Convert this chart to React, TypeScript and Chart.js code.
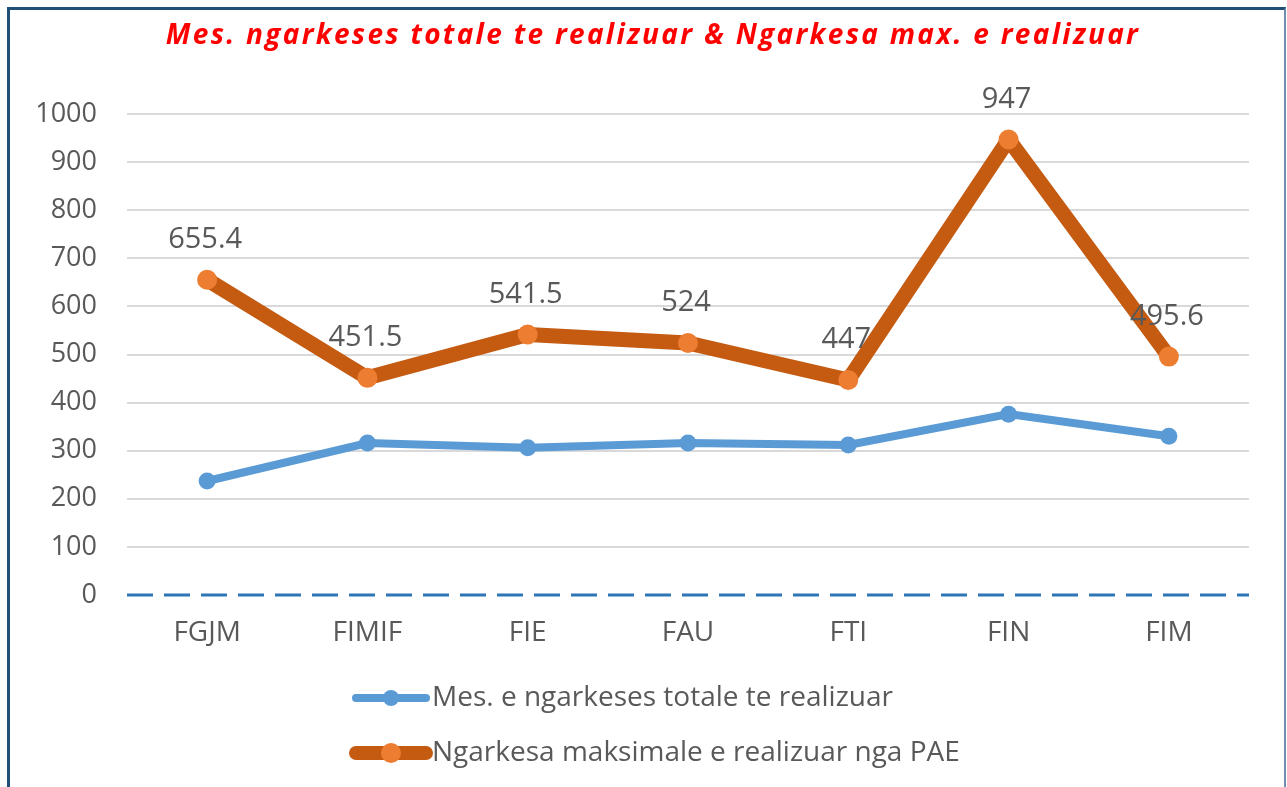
import React, { useEffect, useRef } from "react";
import { Chart, registerables } from "chart.js";

Chart.register(...registerables);

const TITLE = "Mes. ngarkeses totale te realizuar & Ngarkesa max. e realizuar";
const categories = ["FGJM", "FIMIF", "FIE", "FAU", "FTI", "FIN", "FIM"];
const seriesMesName = "Mes. e ngarkeses totale te realizuar";
const seriesMesValues = [237, 316, 306, 316, 312, 376, 330];
const seriesMaxName = "Ngarkesa maksimale e realizuar nga PAE";
const seriesMaxValues = [655.4, 451.5, 541.5, 524, 447, 947, 495.6];
const yMin = 0;
const yMax = 1000;
const yStep = 100;

const FONT = "'Open Sans', 'Noto Sans', sans-serif";
const TEXT_COLOR = "#595959";
const BLUE = "#5B9BD5";
const ORANGE_LINE = "#C55A11";
const ORANGE_POINT = "#ED7D31";

const extrasPlugin = {
  id: "extras",
  beforeDatasetsDraw(chart: any) {
    const { ctx, chartArea, scales } = chart;
    const y0 = scales.y.getPixelForValue(0);
    ctx.save();
    ctx.strokeStyle = "#2E75B6";
    ctx.lineWidth = 3;
    ctx.setLineDash([26, 11]);
    ctx.beginPath();
    ctx.moveTo(chartArea.left, y0);
    ctx.lineTo(chartArea.right, y0);
    ctx.stroke();
    ctx.restore();
  },
  afterDraw(chart: any) {
    const { ctx } = chart;
    ctx.save();
    // title
    ctx.font = `italic bold 28px ${FONT}`;
    ctx.fillStyle = "#FF0000";
    ctx.textAlign = "center";
    ctx.textBaseline = "middle";
    (ctx as any).letterSpacing = "2.3px";
    ctx.fillText(TITLE, 653, 36);
    (ctx as any).letterSpacing = "0px";

    // data labels for max series
    const meta = chart.getDatasetMeta(1);
    ctx.font = `29px ${FONT}`;
    ctx.fillStyle = TEXT_COLOR;
    meta.data.forEach((pt: any, i: number) => {
      ctx.fillText(String(seriesMaxValues[i]), pt.x - 2, pt.y - 40);
    });

    // legend
    const items = [
      { name: seriesMesName, color: BLUE, point: BLUE, lw: 8, r: 8, y: 698 },
      { name: seriesMaxName, color: ORANGE_LINE, point: ORANGE_POINT, lw: 14, r: 10, y: 753 },
    ];
    const lx = 356;
    items.forEach((it) => {
      ctx.strokeStyle = it.color;
      ctx.lineWidth = it.lw;
      ctx.lineCap = "round";
      ctx.beginPath();
      ctx.moveTo(lx, it.y);
      ctx.lineTo(lx + 70, it.y);
      ctx.stroke();
      ctx.fillStyle = it.point;
      ctx.beginPath();
      ctx.arc(lx + 35, it.y, it.r, 0, Math.PI * 2);
      ctx.fill();
      ctx.fillStyle = TEXT_COLOR;
      ctx.font = `28px ${FONT}`;
      ctx.textAlign = "left";
      ctx.textBaseline = "middle";
      ctx.fillText(it.name, lx + 76, it.y);
    });
    ctx.restore();
  },
};

export default function App() {
  const ref = useRef<HTMLCanvasElement | null>(null);
  useEffect(() => {
    if (!ref.current) return;
    const chart = new Chart(ref.current, {
      type: "line",
      data: {
        labels: categories,
        datasets: [
          {
            label: seriesMesName,
            data: seriesMesValues,
            borderColor: BLUE,
            backgroundColor: BLUE,
            borderWidth: 8,
            pointRadius: 8.5,
            pointBackgroundColor: BLUE,
            pointBorderWidth: 0,
            tension: 0,
          },
          {
            label: seriesMaxName,
            data: seriesMaxValues,
            borderColor: ORANGE_LINE,
            backgroundColor: ORANGE_POINT,
            borderWidth: 15,
            pointRadius: 10,
            pointBackgroundColor: ORANGE_POINT,
            pointBorderWidth: 0,
            borderJoinStyle: "round",
            tension: 0,
          },
        ],
      },
      options: {
        animation: false,
        responsive: false,
        layout: { padding: { left: 8, right: 38, top: 114, bottom: 0 } },
        plugins: {
          legend: { display: false },
          title: { display: false },
          tooltip: { enabled: false },
        },
        scales: {
          x: {
            offset: true,
            grid: { display: false, drawTicks: false },
            border: { display: false },
            ticks: { color: TEXT_COLOR, font: { family: FONT, size: 28 }, padding: 21 },
            afterFit(scale: any) {
              scale.height = 192;
            },
          },
          y: {
            min: yMin,
            max: yMax,
            ticks: {
              stepSize: yStep,
              color: TEXT_COLOR,
              font: { family: FONT, size: 27 },
              padding: 30,
              callback: (v: any) => String(v),
            },
            grid: {
              drawTicks: false,
              lineWidth: 2,
              color: (c: any) => (c.tick && c.tick.value === 0 ? "rgba(0,0,0,0)" : "#D9D9D9"),
            },
            border: { display: false },
            afterFit(scale: any) {
              scale.width = 119;
            },
          },
        },
      },
      plugins: [extrasPlugin],
    });
    return () => chart.destroy();
  }, []);

  return (
    <div style={{ position: "fixed", left: 0, top: 0, width: 1287, height: 787, overflow: "hidden", background: "#fff" }}>
      <div
        style={{
          position: "absolute",
          left: 7,
          top: 7,
          width: 1274,
          height: 800,
          borderLeft: "3px solid #1F4E79",
          borderTop: "3px solid #1F4E79",
          borderRight: "2px solid #6F8FAF",
        }}
      />
      <canvas ref={ref} width={1287} height={787} style={{ position: "absolute", left: 0, top: 0 }} />
    </div>
  );
}
